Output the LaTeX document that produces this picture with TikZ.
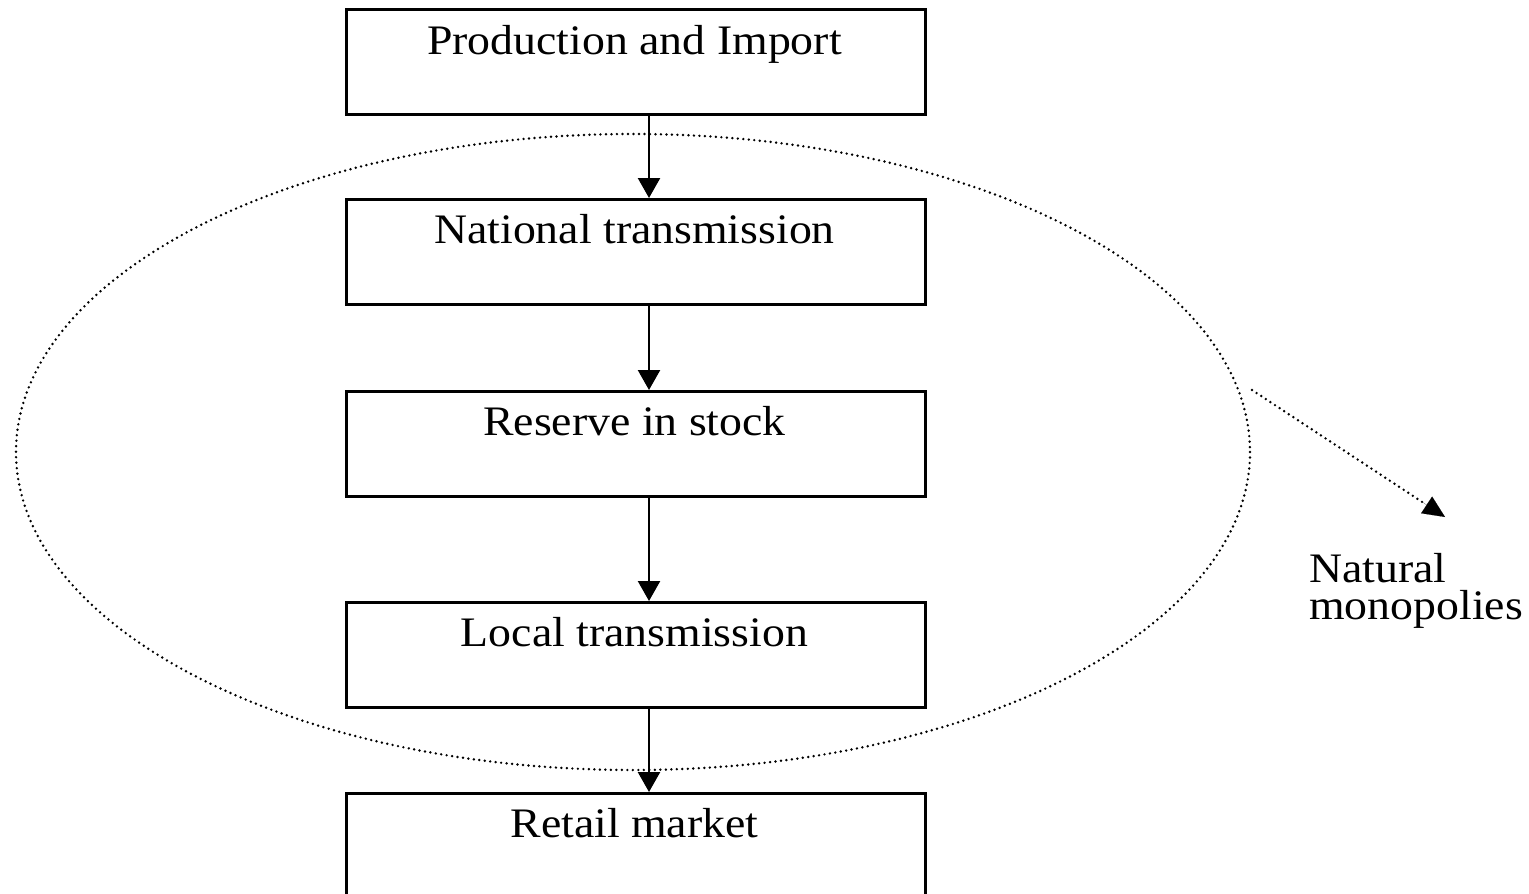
\documentclass[tikz,border=0pt]{standalone}
\usepackage{fontspec}
\setmainfont[FakeStretch=1.09]{Liberation Serif}
\usetikzlibrary{arrows.meta,calc}
\begin{document}
\begin{tikzpicture}[x=1pt,y=-1pt,
  stagebox/.style={draw,line width=2.8pt,minimum width=579pt,minimum height=105pt,inner sep=0pt,anchor=north west},
  stagetext/.style={anchor=base,inner sep=0pt,font=\fontsize{42}{48}\selectfont},
  flow/.style={line width=2.4pt,-{Triangle[length=20pt,width=22pt]}},
  dotline/.style={line width=2.7pt,line cap=round,dash pattern=on 0pt off 5.5pt}]
\useasboundingbox (0,0) rectangle (1529,894);
\node[stagebox] (b1) at (345,8) {};
\node[stagebox] (b2) at (345,198) {};
\node[stagebox] (b3) at (345,390) {};
\node[stagebox] (b4) at (345,601) {};
\node[stagebox,minimum height=112pt] (b5) at (345,792) {};
\node[stagetext] (t1) at (634.5,54) {Production and Import};
\node[stagetext] (t2) at (634.5,243) {National transmission};
\node[stagetext] (t3) at (634.5,435) {Reserve in stock};
\node[stagetext] (t4) at (634.5,646) {Local transmission};
\node[stagetext] (t5) at (634.5,837) {Retail market};
\draw[flow] (b1.south -| 649,0) -- (b2.north -| 649,0);
\draw[flow] (b2.south -| 649,0) -- (b3.north -| 649,0);
\draw[flow] (b3.south -| 649,0) -- (b4.north -| 649,0);
\draw[flow] (b4.south -| 649,0) -- (b5.north -| 649,0);
\draw[dotline] (633,452) ellipse [x radius=617, y radius=318];
\node[anchor=base west,inner sep=0pt,font=\fontsize{42}{48}\selectfont] (nm1) at (1309,582) {Natural};
\node[anchor=base west,inner sep=0pt,font=\fontsize{42}{48}\selectfont] (nm2) at (1309,619) {monopolies};
\coordinate (ds) at (1252,390);
\coordinate (de) at (1445,517);
\draw[dotline] (ds) -- ($(ds)!0.9!(de)$);
\draw[line width=0.1pt,-{Triangle[length=22pt,width=20pt]}] ($(ds)!0.88!(de)$) -- (de);
\end{tikzpicture}
\end{document}
